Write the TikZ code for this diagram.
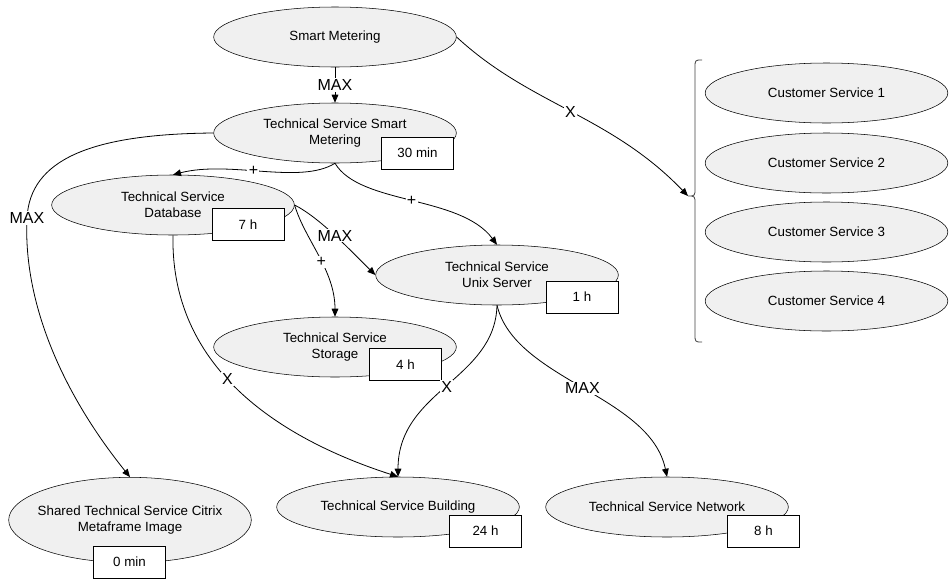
\documentclass[tikz,border=0pt]{standalone}
\usepackage{fontspec}
\setmainfont{Liberation Sans}
\usepackage{tikz}
\usetikzlibrary{shapes.geometric,arrows.meta}

\begin{document}
\begin{tikzpicture}[x=0.75pt,y=-0.75pt,
    service/.style={ellipse,draw,fill=gray!12,minimum width=182pt,minimum height=45pt,
        inner sep=0pt,align=center,font=\fontsize{10}{12}\selectfont},
    durbox/.style={rectangle,draw,fill=white,minimum width=54pt,minimum height=24pt,
        font=\fontsize{10}{12}\selectfont},
    link/.style={-{Triangle[length=6pt,width=5pt]},line width=0.6pt},
    lbl/.style={fill=white,inner sep=1pt,font=\fontsize{12}{14}\selectfont}]
    \useasboundingbox (0,0) rectangle (949,579);

    % Technical services
    \node[service] (sm) at (335,37) {Smart Metering};
    \node[service] (tsm) at (335,133) {Technical Service Smart\\Metering};
    \node[service] (db) at (173,205) {Technical Service\\Database};
    \node[service] (unix) at (497,275) {Technical Service\\Unix Server};
    \node[service] (storage) at (335,347) {Technical Service\\Storage};
    \node[service,minimum height=64pt,inner xsep=-12pt] (citrix) at (130,520) {Shared Technical Service Citrix\\Metaframe Image};
    \node[service] (building) at (398,507) {Technical Service Building};
    \node[service] (network) at (667,507) {Technical Service Network};

    % Recovery times
    \node[durbox] (tsmtime) at (417.5,153) {30 min};
    \node[durbox] (dbtime) at (248,224.5) {7 h};
    \node[durbox] (unixtime) at (582,297) {1 h};
    \node[durbox] (storagetime) at (405.5,364.5) {4 h};
    \node[durbox] (citrixtime) at (129.5,562) {0 min};
    \node[durbox] (buildingtime) at (485.5,531) {24 h};
    \node[durbox] (networktime) at (763.5,531) {8 h};

    % Customer services
    \foreach \i/\y in {1/93,2/163,3/232,4/301}
        \node[service] (cs\i) at (826.5,\y) {Customer Service \i};
    \coordinate (bracetip) at (688,196);
    \draw[black!75,line width=0.6pt] (702,60) .. controls (695,60) .. (695,68) -- (695,188)
        .. controls (695,196) .. (bracetip) .. controls (695,196) .. (695,204)
        -- (695,334) .. controls (695,342) .. (702,342);

    % Dependencies
    \draw[link] (sm) -- node[lbl] {MAX} (tsm);
    \draw[link] (sm.east) .. controls (530,105) and (610,115) .. node[lbl] {X} (bracetip);
    \draw[link] (tsm.south) .. controls (300,185) and (230,160) .. node[lbl,pos=0.55] {+} (db.north);
    \draw[link] (tsm.south) .. controls (360,205) and (460,195) .. node[lbl] {+} (unix.north);
    \draw[link] (tsm.west) .. controls (90,134) and (30,160) .. (27,218) node[lbl] {MAX}
        .. controls (23,300) and (60,390) .. (citrix.north);
    \draw[link] (db.east) .. controls (320,218) and (350,250) .. node[lbl] {MAX} (unix.west);
    \draw[link] (db.east) .. controls (305,240) and (335,270) .. node[lbl,pos=0.55] {+} (storage.north);
    \draw[link] (db.south) .. controls (170,380) and (300,445) .. node[lbl,pos=0.42] {X} (building.north);
    \draw[link] (unix.south) .. controls (495,380) and (398,390) .. node[lbl] {X} (building.north);
    \draw[link] (unix.south) .. controls (515,380) and (650,395) .. node[lbl] {MAX} (network.north);
\end{tikzpicture}
\end{document}
